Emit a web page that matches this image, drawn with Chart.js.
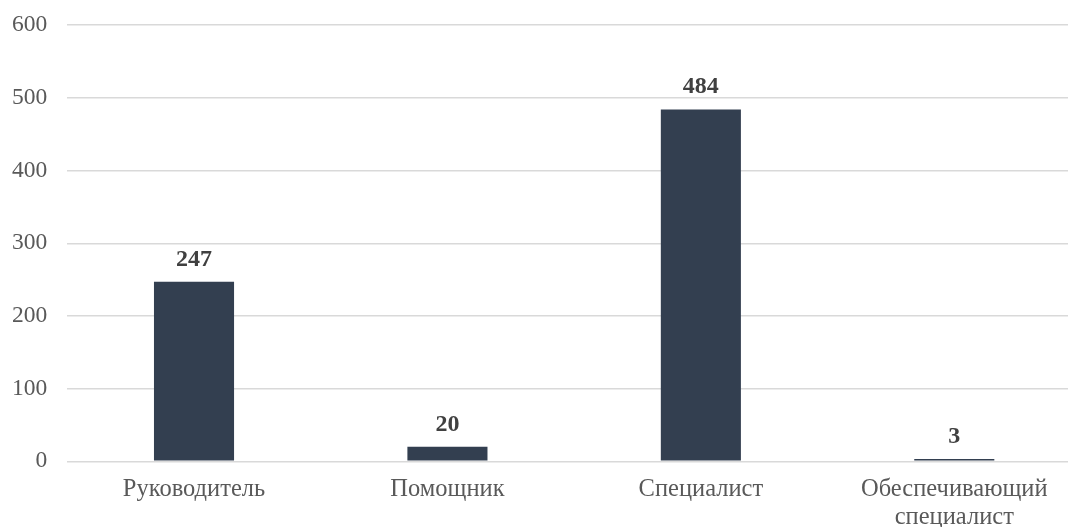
<!DOCTYPE html>
<html>
<head>
<meta charset="utf-8">
<script src="https://cdn.jsdelivr.net/npm/chart.js@4"></script>
<style>
  html, body { margin: 0; padding: 0; background: #ffffff; overflow: hidden; }
  #wrap { position: relative; width: 1081px; height: 527px; }
</style>
</head>
<body>
<div id="wrap"><canvas id="c"></canvas></div>
<script>
const categories = [
  "Руководитель",
  "Помощник",
  "Специалист",
  ["Обеспечивающий", "специалист"]
];
const values = [247, 20, 484, 3];
const yTicks = [0, 100, 200, 300, 400, 500, 600];

const FONT = "'Liberation Serif', 'Times New Roman', serif";

const valueLabels = {
  id: 'valueLabels',
  afterDatasetsDraw(chart) {
    const ctx = chart.ctx;
    const meta = chart.getDatasetMeta(0);
    ctx.save();
    ctx.font = "bold 24px " + FONT;
    ctx.fillStyle = '#404040';
    ctx.textAlign = 'center';
    ctx.textBaseline = 'alphabetic';
    meta.data.forEach((bar, i) => {
      ctx.fillText(String(values[i]), bar.x, bar.y - 16);
    });
    ctx.restore();
  }
};

new Chart(document.getElementById('c'), {
  type: 'bar',
  data: {
    labels: categories,
    datasets: [{
      data: values,
      backgroundColor: '#333F50',
      borderWidth: 0,
      categoryPercentage: 1,
      barPercentage: 0.316
    }]
  },
  options: {
    responsive: true,
    maintainAspectRatio: false,
    animation: false,
    devicePixelRatio: 1,
    layout: { padding: { top: 25.1, left: 0, right: 0, bottom: 0 } },
    plugins: {
      legend: { display: false },
      tooltip: { enabled: false }
    },
    scales: {
      x: {
        grid: { display: false, drawTicks: false },
        border: { display: false },
        ticks: {
          color: '#595959',
          font: { family: FONT, size: 24.5, lineHeight: 1.12 },
          padding: 15,
          maxRotation: 0,
          autoSkip: false
        },
        afterFit(scale) { scale.height = 527 - 461.3; }
      },
      y: {
        min: 0,
        max: 600,
        afterBuildTicks(scale) { scale.ticks = yTicks.map(v => ({ value: v })); },
        grid: { color: '#D9D9D9', lineWidth: 1.4, drawTicks: false },
        border: { display: false },
        ticks: {
          color: '#595959',
          font: { family: FONT, size: 23.5 },
          padding: 20
        },
        afterFit(scale) { scale.width = 67.3; scale.paddingTop = 0; scale.paddingBottom = 0; }
      }
    }
  },
  plugins: [valueLabels]
});
</script>
</body>
</html>
